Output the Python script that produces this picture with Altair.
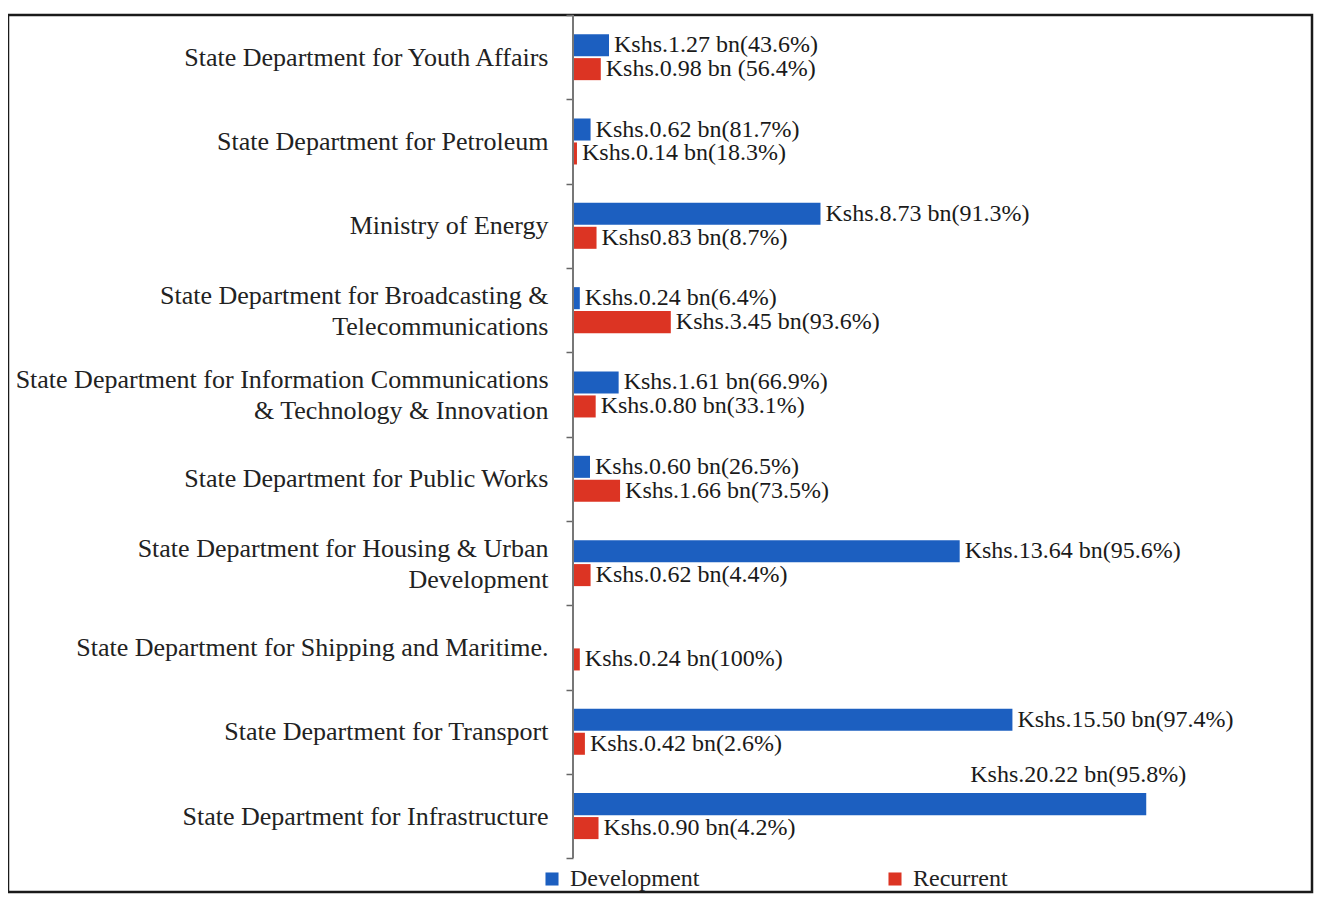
import altair as alt
import pandas as pd

categories = [
    "State Department for Youth Affairs",
    "State Department for Petroleum",
    "Ministry of Energy",
    "State Department for Broadcasting &\nTelecommunications",
    "State Department for Information Communications\n& Technology & Innovation",
    "State Department for Public Works",
    "State Department for Housing & Urban\nDevelopment",
    "State Department for Shipping and  Maritime.",
    "State Department for Transport",
    "State Department for Infrastructure",
]
development = [1.27, 0.62, 8.73, 0.24, 1.61, 0.60, 13.64, None, 15.50, 20.22]
recurrent = [0.98, 0.14, 0.83, 3.45, 0.80, 1.66, 0.62, 0.24, 0.42, 0.90]
development_labels = [
    "Kshs.1.27 bn(43.6%)", "Kshs.0.62 bn(81.7%)", "Kshs.8.73 bn(91.3%)",
    "Kshs.0.24 bn(6.4%)", "Kshs.1.61 bn(66.9%)", "Kshs.0.60 bn(26.5%)",
    "Kshs.13.64 bn(95.6%)", None, "Kshs.15.50 bn(97.4%)", "Kshs.20.22 bn(95.8%)",
]
recurrent_labels = [
    "Kshs.0.98 bn (56.4%)", "Kshs.0.14 bn(18.3%)", "Kshs0.83 bn(8.7%)",
    "Kshs.3.45 bn(93.6%)", "Kshs.0.80 bn(33.1%)", "Kshs.1.66 bn(73.5%)",
    "Kshs.0.62 bn(4.4%)", "Kshs.0.24 bn(100%)", "Kshs.0.42 bn(2.6%)",
    "Kshs.0.90 bn(4.2%)",
]
series_names = ["Development", "Recurrent"]
series_colors = ["#1c5fc0", "#dc3423"]

rows = []
for i, c in enumerate(categories):
    if development[i] is not None:
        rows.append({"category": c, "series": "Development",
                     "value": development[i], "label": development_labels[i]})
    rows.append({"category": c, "series": "Recurrent",
                 "value": recurrent[i], "label": recurrent_labels[i]})
df = pd.DataFrame(rows)

FONT = "Liberation Serif"
W, H = 1304, 877
ZERO_PX = 565
PX_PER_UNIT = 28.35
xdom = [-ZERO_PX / PX_PER_UNIT, (W - ZERO_PX) / PX_PER_UNIT]

yscale = alt.Scale(domain=categories, paddingInner=0, paddingOuter=0.2, align=0)
xscale = alt.Scale(domain=xdom, nice=False, zero=False)
yoff = alt.YOffset("series:N", scale=alt.Scale(domain=series_names, paddingInner=0.08, paddingOuter=0.8))

multiline_test = "isValid(datum.value) && indexof(datum.value, '\\n') >= 0"

base = alt.Chart(df)

bars = base.mark_bar().encode(
    y=alt.Y("category:N", scale=yscale, sort=categories,
            axis=alt.Axis(title=None, orient="left", offset=-ZERO_PX, tickBand="extent",
                          domain=False, tickSize=7, tickColor="#666", tickWidth=1.5,
                          labelPadding=18, labelFont=FONT, labelFontSize=26,
                          labelColor="#222", labelLimit=0, labelLineHeight=31,
                          labelOffset={"condition": {"test": multiline_test, "value": -15},
                                       "value": 0},
                          labelExpr="isValid(datum.value) ? split(datum.value, '\\n') : ''",
                          grid=False)),
    x=alt.X("value:Q", scale=xscale, axis=None),
    yOffset=yoff,
    color=alt.Color("series:N", scale=alt.Scale(domain=series_names, range=series_colors),
                    legend=alt.Legend(title=None, orient="none", legendX=532, legendY=852,
                                      direction="horizontal", symbolType="square",
                                      symbolSize=170, symbolStrokeWidth=0,
                                      labelFont=FONT, labelFontSize=24, labelColor="#222",
                                      columnPadding=183, labelOffset=6)),
)

labels_right = base.transform_filter("datum.value <= 18").mark_text(
    align="left", baseline="middle", dx=5, font=FONT, fontSize=24, color="#1a1a1a"
).encode(
    y=alt.Y("category:N", scale=yscale, sort=categories),
    x=alt.X("value:Q", scale=xscale),
    yOffset=yoff,
    text="label:N",
)

labels_above = base.transform_filter("datum.value > 18").mark_text(
    align="right", baseline="middle", dx=40, dy=-29, font=FONT, fontSize=24, color="#1a1a1a"
).encode(
    y=alt.Y("category:N", scale=yscale, sort=categories),
    x=alt.X("value:Q", scale=xscale),
    yOffset=yoff,
    text="label:N",
)

axis_line = alt.Chart(pd.DataFrame({"z": [0]})).mark_rule(color="#777", strokeWidth=2).encode(
    x=alt.X("z:Q", scale=xscale),
    y=alt.value(0),
    y2=alt.value(843),
)

chart = alt.layer(bars, labels_right, labels_above, axis_line).properties(
    width=W, height=H,
    background="white",
    autosize=alt.AutoSizeParams(type="none"),
    padding={"left": 0, "top": 7, "right": 5, "bottom": 5},
).configure_view(stroke="#1a1a1a", strokeWidth=2.5).configure_text(font=FONT).configure_legend(labelFont=FONT)

chart.save("out.html", embed_options={"renderer": "svg", "actions": False})
